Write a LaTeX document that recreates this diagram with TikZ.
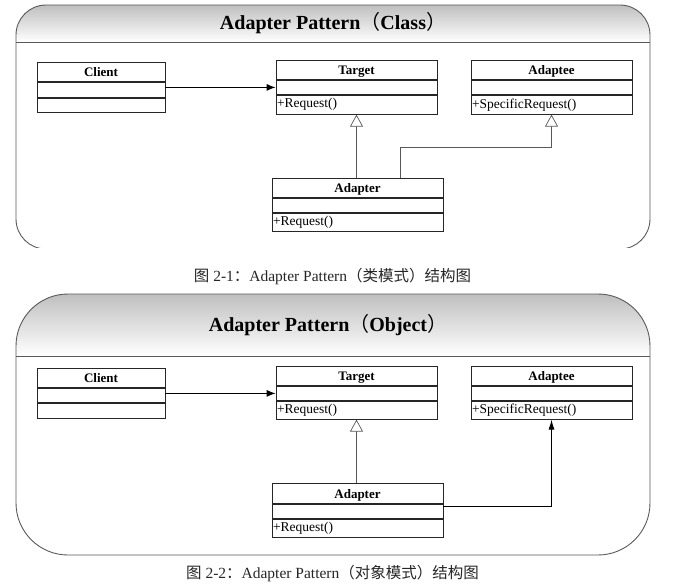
\documentclass[tikz,border=0pt]{standalone}
\usepackage{fontspec}
\setmainfont{Liberation Serif}
\newfontfamily\cjk{Noto Sans CJK SC}
\usetikzlibrary{positioning, arrows.meta, calc}
\tikzset{
    x=1pt, y=-1pt, % one unit is one pixel of the page, y grows downwards
    panel/.style={ % rounded frame round each diagram
        draw=black!65,
        line width=0.9pt
    },
    paneltitle/.style={
        font=\fontsize{20}{22}\selectfont\bfseries
    },
    caption/.style={
        text=black!85,
        font=\fontsize{15.5}{17}\selectfont
    },
    classhead/.style={ % name row of a class
        draw=black!85,
        line width=1pt,
        inner sep=0pt,
        minimum height=19pt,
        text height=10pt,
        text depth=1pt,
        font=\fontsize{13}{15}\selectfont\bfseries
    },
    classrow/.style={ % empty attribute row
        draw=black!85,
        line width=0.8pt,
        inner sep=1pt
    },
    classop/.style={ % operation row, text to the left
        classrow,
        align=left,
        font=\fontsize{13.5}{15}\selectfont
    },
    assoc/.style={
        draw,
        line width=0.9pt,
        -{Latex[length=9pt, width=7pt]}
    },
    inherit/.style={
        draw=black!65,
        line width=0.7pt,
        -{Triangle[open, length=12pt, width=13pt, fill=white]}
    }
}

\begin{document}
\begin{tikzpicture}
\useasboundingbox (0,0) rectangle (680,586);

% class diagram frame
\begin{scope}
    \clip (0,0) rectangle (680,247.6);
    \begin{scope}
        \clip[rounded corners=30pt] (16,5) rectangle (650,249);
        \shade[top color=black!25, bottom color=white] (16,5) rectangle (650,42);
    \end{scope}
    \draw[panel, rounded corners=30pt] (16,5) rectangle (650,249);
    \draw[panel] (16,42) -- (650,42);
\end{scope}
\node[paneltitle] (title1) at (333,23) {Adapter Pattern{\cjk\mdseries （}Class{\cjk\mdseries ）}};

\node[classhead, minimum width=128pt, anchor=north] (client1) at (101,62) {Client};
\node[classrow, minimum width=128pt, minimum height=15pt, below=0pt of client1] (client1-attr) {};
\node[classrow, minimum width=128pt, minimum height=14pt, below=0pt of client1-attr] (client1-op) {};

\node[classhead, minimum width=161pt, anchor=north] (target1) at (356.5,60) {Target};
\node[classrow, minimum width=161pt, minimum height=14pt, below=0pt of target1] (target1-attr) {};
\node[classop, text width=159pt, minimum height=19pt, below=0pt of target1-attr] (target1-op) {+Request()};

\node[classhead, minimum width=161pt, anchor=north] (adaptee1) at (551.5,60) {Adaptee};
\node[classrow, minimum width=161pt, minimum height=14pt, below=0pt of adaptee1] (adaptee1-attr) {};
\node[classop, text width=159pt, minimum height=19pt, below=0pt of adaptee1-attr] (adaptee1-op) {+SpecificRequest()};

\node[classhead, minimum width=171pt, anchor=north] (adapter1) at (357.5,178) {Adapter};
\node[classrow, minimum width=171pt, minimum height=14pt, below=0pt of adapter1] (adapter1-attr) {};
\node[classop, text width=169pt, minimum height=18pt, below=0pt of adapter1-attr] (adapter1-op) {+Request()};

\draw[assoc] (client1-attr.east |- target1-attr.west) -- (target1-attr.west);
\draw[inherit] (adapter1.north -| target1-op.south) -- (target1-op.south);
\draw[inherit] ($(adapter1.north)!0.5!(adapter1.north east)$) -- ++(0,-31) -| (adaptee1-op.south);

\node[caption] (caption1) at (332.5,277) {{\cjk 图} 2-1{\cjk ：}Adapter Pattern{\cjk （类模式）结构图}};

% object diagram frame
\begin{scope}
    \clip[rounded corners=52pt] (16,294) rectangle (650,555);
    \shade[top color=black!25, bottom color=white] (16,294) rectangle (650,356);
\end{scope}
\draw[panel, rounded corners=52pt] (16,294) rectangle (650,555);
\draw[panel] (16,356) -- (650,356);
\node[paneltitle] (title2) at (328,325) {Adapter Pattern{\cjk\mdseries （}Object{\cjk\mdseries ）}};

\node[classhead, minimum width=128pt, anchor=north] (client2) at (101,368) {Client};
\node[classrow, minimum width=128pt, minimum height=14pt, below=0pt of client2] (client2-attr) {};
\node[classrow, minimum width=128pt, minimum height=15pt, below=0pt of client2-attr] (client2-op) {};

\node[classhead, minimum width=161pt, anchor=north] (target2) at (356.5,366) {Target};
\node[classrow, minimum width=161pt, minimum height=14pt, below=0pt of target2] (target2-attr) {};
\node[classop, text width=159pt, minimum height=18pt, below=0pt of target2-attr] (target2-op) {+Request()};

\node[classhead, minimum width=161pt, anchor=north] (adaptee2) at (551.5,366) {Adaptee};
\node[classrow, minimum width=161pt, minimum height=14pt, below=0pt of adaptee2] (adaptee2-attr) {};
\node[classop, text width=159pt, minimum height=18pt, below=0pt of adaptee2-attr] (adaptee2-op) {+SpecificRequest()};

\node[classhead, minimum width=171pt, minimum height=20pt, anchor=north] (adapter2) at (357.5,483) {Adapter};
\node[classrow, minimum width=171pt, minimum height=14pt, below=0pt of adapter2] (adapter2-attr) {};
\node[classop, text width=169pt, minimum height=18pt, below=0pt of adapter2-attr] (adapter2-op) {+Request()};

\draw[assoc] (client2-attr.east |- target2-attr.west) -- (target2-attr.west);
\draw[inherit] (adapter2.north -| target2-op.south) -- (target2-op.south);
\draw[assoc, -{Latex[length=10pt, width=6pt]}] ([yshift=-2pt]adapter2-attr.north east) -| (adaptee2-op.south);

\node[caption] (caption2) at (332.5,574) {{\cjk 图} 2-2{\cjk ：}Adapter Pattern{\cjk （对象模式）结构图}};
\end{tikzpicture}
\end{document}
